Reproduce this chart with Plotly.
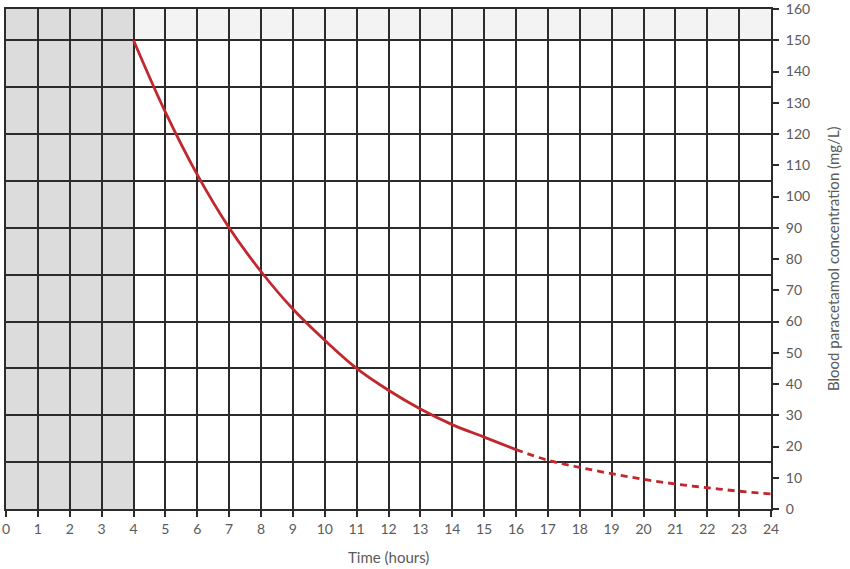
import plotly.graph_objects as go

# Data
hours_solid = [4, 5, 6, 7, 8, 9, 10, 11, 12, 13, 14, 15, 16]
conc_solid = [150, 127, 107, 90, 76, 64, 54, 45, 38, 32, 27, 23, 19]
hours_dash = [16, 17, 18, 19, 20, 21, 22, 23, 24]
conc_dash = [19, 15.6, 13.3, 11.3, 9.5, 8.0, 6.8, 5.7, 4.8]
x_ticks = list(range(0, 25))
y_ticks = list(range(0, 161, 10))
y_grid = list(range(0, 151, 15))

grid_col = "#2b2b2b"
label_col = "#5a5a5a"
red = "#c1272d"
font_family = "Lato, 'Open Sans', sans-serif"

fig = go.Figure()
fig.add_trace(go.Scatter(x=hours_solid, y=conc_solid, mode="lines", line_shape="spline",
                         line=dict(color=red, width=2.8), yaxis="y", showlegend=False))
fig.add_trace(go.Scatter(x=hours_dash, y=conc_dash, mode="lines", line_shape="spline",
                         line=dict(color=red, width=2.8, dash="7px,5px"), yaxis="y", showlegend=False))
# invisible trace to anchor right axis
fig.add_trace(go.Scatter(x=[0, 24], y=[0, 160], mode="markers", marker=dict(opacity=0),
                         yaxis="y2", showlegend=False, hoverinfo="skip"))

fig.update_layout(
    width=850, height=569,
    margin=dict(l=6, r=79, t=9, b=60),
    paper_bgcolor="white", plot_bgcolor="white",
    font=dict(family=font_family, size=14, color=label_col),
    xaxis=dict(range=[0, 24], tickvals=x_ticks, showgrid=True, gridcolor=grid_col, gridwidth=2,
               showline=True, mirror=True, linecolor=grid_col, linewidth=2,
               ticks="outside", ticklen=6, tickwidth=2, tickcolor=grid_col,
               zeroline=False, automargin=False, ticklabeloverflow="allow",
               tickfont=dict(size=14, color=label_col)),
    yaxis=dict(range=[0, 160], tickvals=y_grid, showgrid=True, gridcolor=grid_col, gridwidth=2,
               showticklabels=False, showline=True, mirror=True, linecolor=grid_col, linewidth=2,
               ticks="", zeroline=False, automargin=False),
    yaxis2=dict(range=[0, 160], tickvals=y_ticks, overlaying="y", side="right", showgrid=False,
                ticks="outside", ticklen=7, tickwidth=2, tickcolor=grid_col,
                zeroline=False, showline=False, automargin=False, ticklabeloverflow="allow",
                ticklabelstandoff=4,
                tickfont=dict(size=14, color=label_col)),
    shapes=[
        dict(type="rect", xref="x", yref="y", x0=0, x1=4, y0=0, y1=160,
             fillcolor="#dcdcdc", line=dict(width=0), layer="below"),
        dict(type="rect", xref="x", yref="y", x0=4, x1=24, y0=150, y1=160,
             fillcolor="#f3f3f3", line=dict(width=0), layer="below"),
    ],
    annotations=[
        dict(text="Time (hours)", xref="paper", yref="paper", x=0.5, y=0,
             yshift=-48, xanchor="center", yanchor="middle", showarrow=False,
             font=dict(size=15, color=label_col)),
        dict(text="Blood paracetamol concentration (mg/L)", xref="paper", yref="paper",
             x=1, xshift=62, y=0.5, xanchor="center", yanchor="middle", textangle=-90,
             showarrow=False, font=dict(size=15, color=label_col)),
    ],
)

fig.write_html("out.html", config={"displayModeBar": False},
               post_script="document.body.style.margin='0';document.body.style.padding='0';")
